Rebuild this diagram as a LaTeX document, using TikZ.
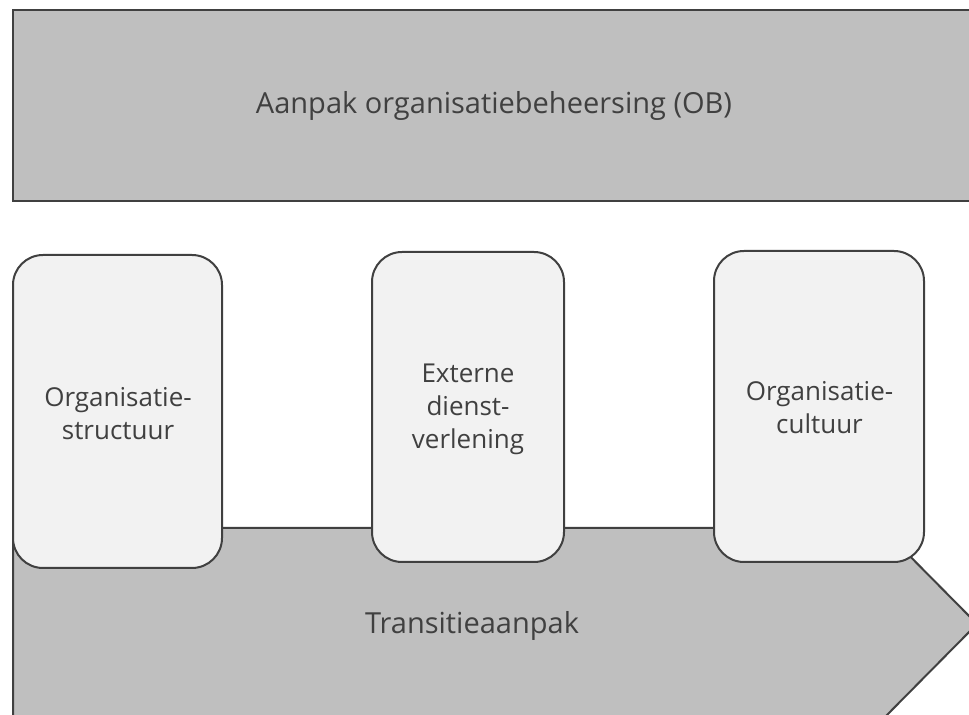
\documentclass[tikz,border=0pt]{standalone}
\usepackage{fontspec}
\setmainfont{Open Sans}
\usepackage{xcolor}
\usetikzlibrary{positioning}
\definecolor{edgegray}{HTML}{404040}
\definecolor{bandgray}{HTML}{BFBFBF}
\definecolor{tilegray}{HTML}{F2F2F2}

\begin{document}
\begin{tikzpicture}[x=0.5pt,y=-0.5pt,
    bar/.style={draw=edgegray,line width=1pt,fill=bandgray,inner sep=0pt},
    tile/.style={draw=edgegray,line width=1pt,fill=tilegray,rounded corners=15pt,inner sep=0pt},
    caption/.style={text=edgegray,font=\fontsize{14.5}{18}\selectfont},
    tiletext/.style={text=edgegray,align=center,font=\fontsize{13}{16.5}\selectfont}]
      \useasboundingbox (0,0) rectangle (969,715);
      \clip (0,0) rectangle (969,715);
      % OB
      \node[bar,caption,minimum width=481pt,minimum height=95.5pt] (ob) at (494,105.5)
        {Aanpak organisatiebeheersing (OB)};
      % transitie
      \draw[bar] (13,528) -- (882,528) -- (977,624) -- (882,720) -- (13,720) -- cycle;
      \node[caption] (trans) at (472,625.5) {Transitieaanpak};
      % tiles
      \node[tile,minimum width=104.5pt,minimum height=156.5pt] (struct) at (117.5,411.5) {};
      \node[tile,minimum width=96pt,minimum height=155pt] (dienst) at (468,407) {};
      \node[tile,minimum width=105pt,minimum height=155.5pt] (cult) at (819,406.5) {};
      \node[tiletext] (structtext) at (118,414) {Organisatie-\\structuur};
      \node[tiletext] (diensttext) at (468,409) {Externe\\dienst-\\verlening};
      \node[tiletext] (culttext) at (819.5,408) {Organisatie-\\cultuur};
\end{tikzpicture}
\end{document}
